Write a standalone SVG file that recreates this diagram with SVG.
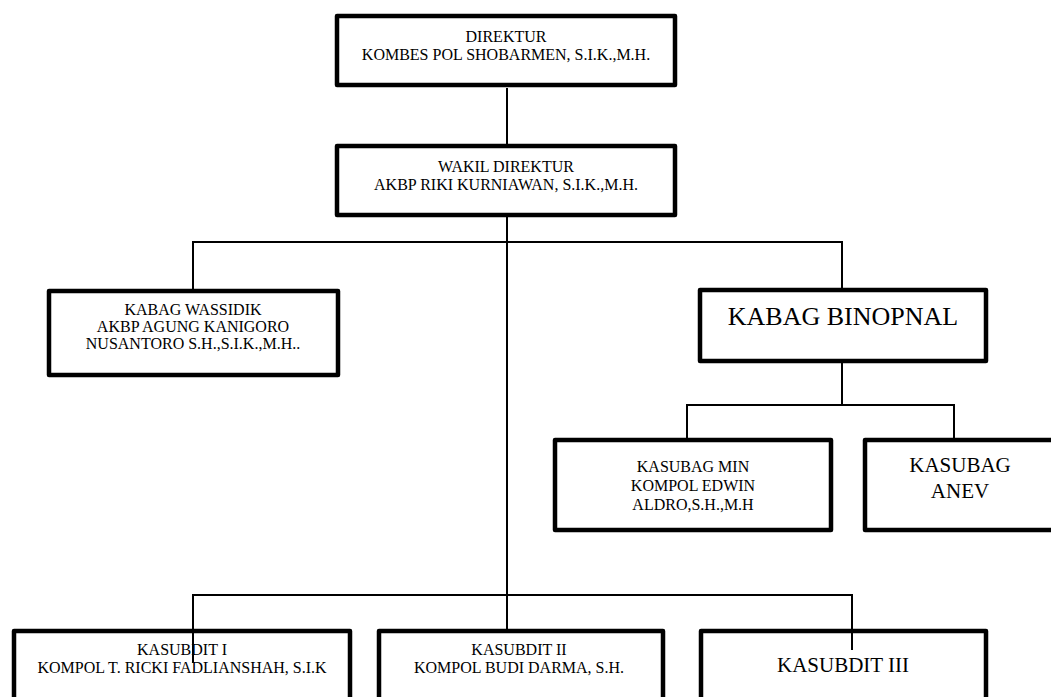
<svg xmlns="http://www.w3.org/2000/svg" width="1051" height="697" viewBox="0 0 1051 697">
<style>
.box{fill:#fff;stroke:#000;stroke-width:4.5;stroke-linejoin:round}
.t{font-family:"Liberation Serif","Times New Roman",serif;font-size:16px;fill:#000;text-anchor:middle}
.big{font-size:26px}
.mid{font-size:21px}
.c{stroke:#000;stroke-width:2;fill:none}
</style>
<rect width="1051" height="697" fill="#fff"/>
<g id="connectors">
<line class="c" x1="507" y1="88" x2="507" y2="144"/>
<line class="c" x1="507" y1="216" x2="507" y2="629"/>
<polyline class="c" points="193,289 193,242 842,242 842,288"/>
<line class="c" x1="842" y1="363" x2="842" y2="405"/>
<polyline class="c" points="687,438 687,405 954,405 954,438"/>
</g>
<g id="direktur">
<rect class="box" x="337" y="16" width="338" height="69"/>
<text class="t" x="506" y="42">DIREKTUR</text>
<text class="t" x="506" y="60">KOMBES POL SHOBARMEN, S.I.K.,M.H.</text>
</g>
<g id="wakil">
<rect class="box" x="337" y="146" width="338" height="69"/>
<text class="t" x="506" y="172">WAKIL DIREKTUR</text>
<text class="t" x="506" y="190">AKBP RIKI KURNIAWAN, S.I.K.,M.H.</text>
</g>
<g id="wassidik">
<rect class="box" x="49" y="291" width="289" height="84"/>
<text class="t" x="193" y="315">KABAG WASSIDIK</text>
<text class="t" x="193" y="332">AKBP AGUNG KANIGORO</text>
<text class="t" x="193" y="349">NUSANTORO S.H.,S.I.K.,M.H..</text>
</g>
<g id="binopnal">
<rect class="box" x="700" y="290" width="286" height="71"/>
<text class="t big" x="843" y="325">KABAG BINOPNAL</text>
</g>
<g id="kasubag-min">
<rect class="box" x="555" y="440" width="276" height="90"/>
<text class="t" x="693" y="472">KASUBAG MIN</text>
<text class="t" x="693" y="491">KOMPOL EDWIN</text>
<text class="t" x="693" y="510">ALDRO,S.H.,M.H</text>
</g>
<g id="kasubag-anev">
<rect class="box" x="865" y="440" width="200" height="90"/>
<text class="t mid" x="960" y="472">KASUBAG</text>
<text class="t mid" x="960" y="498">ANEV</text>
</g>
<g id="kasubdit-1">
<rect class="box" x="14" y="631" width="336" height="80"/>
<text class="t" x="182" y="655">KASUBDIT I</text>
<text class="t" x="182" y="673">KOMPOL T. RICKI FADLIANSHAH, S.I.K</text>
</g>
<g id="kasubdit-2">
<rect class="box" x="379" y="631" width="284" height="80"/>
<text class="t" x="519" y="655">KASUBDIT II</text>
<text class="t" x="519" y="673">KOMPOL BUDI DARMA, S.H.</text>
</g>
<g id="kasubdit-3">
<rect class="box" x="701" y="631" width="285" height="80"/>
<text class="t mid" x="843" y="672">KASUBDIT III</text>
</g>
<g id="connectors-over">
<polyline class="c" points="193,663 193,595 852,595 852,650"/>
</g>
</svg>
